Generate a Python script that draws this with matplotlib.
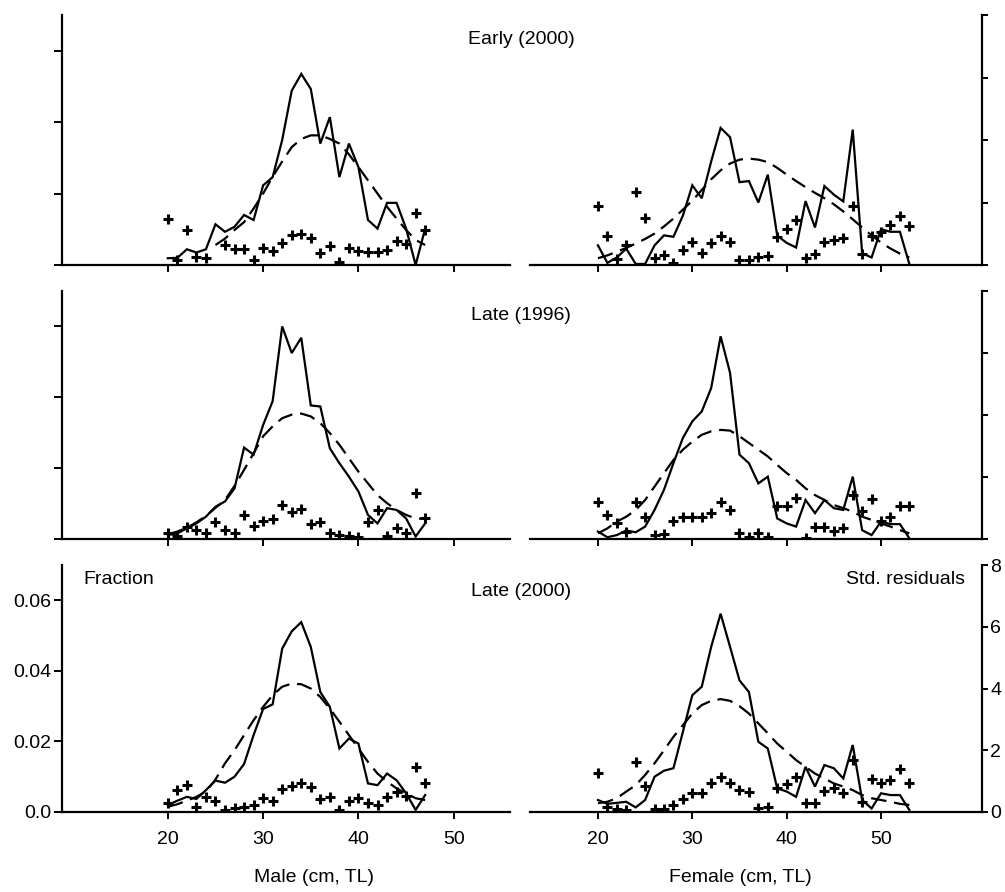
import numpy as np
import matplotlib
matplotlib.use("Agg")
import matplotlib.pyplot as plt

plt.rcParams['font.family'] = ['Liberation Sans', 'DejaVu Sans']
nan = np.nan

# ---------------- data ----------------
len_male = [20, 21, 22, 23, 24, 25, 26, 27, 28, 29, 30, 31, 32, 33, 34, 35, 36, 37, 38, 39,
            40, 41, 42, 43, 44, 45, 46, 47]
len_female = [20, 21, 22, 23, 24, 25, 26, 27, 28, 29, 30, 31, 32, 33, 34, 35, 36, 37, 38, 39,
              40, 41, 42, 43, 44, 45, 46, 47, 48, 49, 50, 51, 52, 53]
len_fit_m_early = [25, 26, 27, 28, 29, 30, 31, 32, 33, 34, 35, 36, 37, 38, 39, 40, 41, 42, 43,
                   44, 45, 46, 47]

# Early (2000) male
obs_m_early = [0.0019, 0.0020, 0.0044, 0.0035, 0.0044, 0.0114, 0.0093, 0.0107, 0.0140, 0.0126,
               0.0223, 0.0246, 0.0350, 0.0488, 0.0535, 0.0493, 0.0340, 0.0414, 0.0246, 0.0340,
               0.0274, 0.0126, 0.0102, 0.0174, 0.0174, 0.0102, 0.0000, 0.0102]
fit_m_early = [0.0056, 0.0074, 0.0098, 0.0120, 0.0158, 0.0200, 0.0247, 0.0290, 0.0330, 0.0353,
               0.0363, 0.0363, 0.0353, 0.0340, 0.0310, 0.0274, 0.0237, 0.0200, 0.0163, 0.0130,
               0.0098, 0.0070, 0.0056]
res_m_early = [1.48, 0.16, 1.13, 0.26, 0.21, nan, 0.63, 0.50, 0.50, 0.16, 0.53, 0.46, 0.69, 0.95,
               1.00, 0.85, 0.37, 0.60, 0.10, 0.53, 0.46, 0.42, 0.42, 0.48, 0.76, 0.67, 1.66, 1.13]

# Early (2000) female
obs_f_early = [0.0055, 0.0006, 0.0021, 0.0046, 0.0003, 0.0003, 0.0055, 0.0083, 0.0079, 0.0138,
               0.0223, 0.0187, 0.0290, 0.0384, 0.0358, 0.0232, 0.0235, 0.0175, 0.0253, 0.0082,
               0.0062, 0.0049, 0.0179, 0.0105, 0.0221, 0.0197, 0.0178, 0.0379, 0.0033, 0.0021,
               0.0100, 0.0093, 0.0093, 0.0003]
fit_f_early = [0.0019, 0.0027, 0.0037, 0.0048, 0.0060, 0.0073, 0.0088, 0.0108, 0.0130, 0.0155,
               0.0180, 0.0210, 0.0240, 0.0265, 0.0284, 0.0295, 0.0298, 0.0295, 0.0288, 0.0272,
               0.0253, 0.0235, 0.0218, 0.0202, 0.0187, 0.0170, 0.0150, 0.0128, 0.0105, 0.0083,
               0.0063, 0.0046, 0.0032, 0.0021]
res_f_early = [1.90, 0.92, 0.20, 0.63, 2.35, 1.51, 0.21, 0.32, 0.07, 0.48, 0.74, 0.37, 0.69, 0.92,
               0.74, 0.16, 0.16, 0.26, 0.30, 0.90, 1.16, 1.45, 0.21, 0.35, 0.74, 0.79, 0.85, 1.90,
               0.35, 0.92, 1.06, 1.27, 1.56, 1.24]

# Late (1996) male
obs_m_1996 = [0.0011, 0.0016, 0.0030, 0.0044, 0.0063, 0.0091, 0.0106, 0.0143, 0.0258, 0.0238,
              0.0322, 0.0389, 0.0600, 0.0525, 0.0568, 0.0377, 0.0374, 0.0256, 0.0214, 0.0176,
              0.0134, 0.0068, 0.0044, 0.0087, 0.0082, 0.0058, 0.0007, 0.0044]
fit_m_1996 = [0.0013, 0.0021, 0.0032, 0.0047, 0.0065, 0.0088, 0.0110, 0.0150, 0.0195, 0.0242,
              0.0290, 0.0318, 0.0341, 0.0351, 0.0354, 0.0346, 0.0327, 0.0299, 0.0266, 0.0228,
              0.0190, 0.0157, 0.0124, 0.0101, 0.0082, 0.0068, 0.0058, 0.0057]
res_m_1996 = [0.18, 0.10, 0.40, 0.29, 0.18, 0.54, 0.29, 0.18, 0.78, 0.43, 0.59, 0.65, 1.10, 0.86,
              0.97, 0.49, 0.56, 0.18, 0.13, 0.10, 0.08, 0.54, 0.94, 0.11, 0.35, 0.18, 1.50, 0.67]

# Late (1996) female
obs_f_1996 = [0.0021, 0.0005, 0.0011, 0.0024, 0.0019, 0.0035, 0.0082, 0.0139, 0.0214, 0.0285,
              0.0332, 0.0360, 0.0426, 0.0572, 0.0469, 0.0238, 0.0214, 0.0157, 0.0176, 0.0058,
              0.0044, 0.0035, 0.0110, 0.0073, 0.0110, 0.0087, 0.0082, 0.0176, 0.0025, 0.0011,
              0.0049, 0.0042, 0.0042, 0.0002]
fit_f_1996 = [0.0016, 0.0030, 0.0049, 0.0063, 0.0082, 0.0110, 0.0148, 0.0186, 0.0223, 0.0252,
              0.0275, 0.0294, 0.0304, 0.0308, 0.0306, 0.0290, 0.0271, 0.0252, 0.0233, 0.0209,
              0.0186, 0.0167, 0.0143, 0.0124, 0.0110, 0.0096, 0.0087, 0.0077, 0.0063, 0.0054,
              0.0044, 0.0035, 0.0025, 0.0016]
res_f_1996 = [1.18, 0.78, 0.53, 0.24, 1.18, 0.70, 0.13, 0.16, 0.59, 0.72, 0.72, 0.72, 0.85, 1.18,
              0.94, 0.18, 0.05, 0.20, 0.08, 1.05, 1.07, 1.32, 0.02, 0.38, 0.38, 0.27, 0.35, 1.43,
              0.90, 1.29, 0.58, 0.72, 1.05, 1.05]

# Late (2000) male
obs_m_2000 = [0.0020, 0.0032, 0.0043, 0.0037, 0.0062, 0.0089, 0.0083, 0.0100, 0.0136, 0.0218,
              0.0292, 0.0305, 0.0463, 0.0512, 0.0538, 0.0468, 0.0340, 0.0298, 0.0180, 0.0208,
              0.0194, 0.0081, 0.0076, 0.0109, 0.0090, 0.0053, 0.0006, 0.0048]
fit_m_2000 = [0.0015, 0.0022, 0.0032, 0.0043, 0.0058, 0.0092, 0.0138, 0.0175, 0.0218, 0.0260,
              0.0298, 0.0331, 0.0355, 0.0364, 0.0362, 0.0350, 0.0326, 0.0293, 0.0256, 0.0218,
              0.0180, 0.0142, 0.0109, 0.0086, 0.0067, 0.0053, 0.0039, 0.0034]
res_m_2000 = [0.28, 0.71, 0.87, 0.17, 0.50, 0.36, 0.06, 0.12, 0.15, 0.23, 0.44, 0.36, 0.75, 0.85,
              0.95, 0.80, 0.41, 0.48, 0.06, 0.36, 0.44, 0.28, 0.23, 0.48, 0.64, 0.52, 1.47, 0.93]

# Late (2000) female
obs_f_2000 = [0.0034, 0.0023, 0.0026, 0.0029, 0.0013, 0.0034, 0.0100, 0.0117, 0.0124, 0.0227,
              0.0331, 0.0355, 0.0468, 0.0562, 0.0468, 0.0373, 0.0340, 0.0199, 0.0180, 0.0067,
              0.0058, 0.0043, 0.0128, 0.0072, 0.0133, 0.0124, 0.0095, 0.0190, 0.0034, 0.0010,
              0.0053, 0.0048, 0.0048, 0.0006]
fit_f_2000 = [0.0025, 0.0029, 0.0039, 0.0058, 0.0076, 0.0105, 0.0138, 0.0175, 0.0213, 0.0246,
              0.0279, 0.0303, 0.0315, 0.0320, 0.0315, 0.0300, 0.0279, 0.0251, 0.0223, 0.0194,
              0.0171, 0.0147, 0.0128, 0.0109, 0.0095, 0.0081, 0.0072, 0.0062, 0.0048, 0.0039,
              0.0034, 0.0029, 0.0023, 0.0020]
res_f_2000 = [1.27, 0.17, 0.09, 0.06, 1.63, 0.84, 0.09, 0.09, 0.23, 0.41, 0.60, 0.63, 0.93, 1.12,
              0.95, 0.71, 0.66, 0.12, 0.17, 0.77, 0.91, 1.14, 0.30, 0.28, 0.69, 0.77, 0.63, 1.70,
              0.33, 1.06, 0.93, 1.04, 1.38, 0.95]

row_titles = ["Early (2000)", "Late (1996)", "Late (2000)"]
x_ticks = [20, 30, 40, 50]
frac_ticks = [0.0, 0.02, 0.04, 0.06]
frac_labels = ["0.0", "0.02", "0.04", "0.06"]
res_ticks = [0, 2, 4, 6, 8]

panels = [
    [(len_male, obs_m_early, len_fit_m_early, fit_m_early, len_male, res_m_early),
     (len_female, obs_f_early, len_female, fit_f_early, len_female, res_f_early)],
    [(len_male, obs_m_1996, len_male, fit_m_1996, len_male, res_m_1996),
     (len_female, obs_f_1996, len_female, fit_f_1996, len_female, res_f_1996)],
    [(len_male, obs_m_2000, len_male, fit_m_2000, len_male, res_m_2000),
     (len_female, obs_f_2000, len_female, fit_f_2000, len_female, res_f_2000)],
]

# ---------------- layout ----------------
W, H = 1005, 892
fig = plt.figure(figsize=(W / 100, H / 100), dpi=100)
fs = 14

rows_px = [(15, 265), (291, 539), (565, 812)]
cols_px = [(62, 510), (530, 982)]
xlims = [(8.9, 55.9), (12.8, 60.7)]
title_y = [40, 316, 591]

for r, (top, bot) in enumerate(rows_px):
    for c, (left, right) in enumerate(cols_px):
        ax = fig.add_axes([left / W, 1 - bot / H, (right - left) / W, (bot - top) / H])
        ax2 = ax.twinx()
        lx, obs, fx, fit, rx, res = panels[r][c]
        ax.plot(lx, obs, color='black', lw=1.6, solid_joinstyle='miter')
        ax.plot(fx, fit, color='black', lw=1.6, dashes=(7, 3.5))
        ax2.plot(rx, res, linestyle='none', marker='+', ms=7, mew=2.2, color='black')
        ax.set_xlim(*xlims[c])
        ax.set_ylim(0, 0.07)
        ax2.set_ylim(0, 8)
        for a in (ax, ax2):
            a.spines['top'].set_visible(False)
            a.patch.set_visible(False)
        ax.spines['right'].set_visible(False)
        ax2.spines['left'].set_visible(False)
        ax2.spines['bottom'].set_visible(False)
        ax.spines['bottom'].set_linewidth(1.6)
        ax.set_xticks(x_ticks)
        ax.tick_params(axis='x', direction='out', length=5, width=1.4, pad=9, labelsize=fs)
        if r < 2:
            ax.set_xticklabels([])
        if c == 0:
            ax.spines['left'].set_linewidth(1.6)
            ax.set_yticks(frac_ticks)
            ax.set_yticklabels(frac_labels if r == 2 else [])
            ax.tick_params(axis='y', direction='out', length=6, width=1.4, pad=2, labelsize=fs)
            ax2.spines['right'].set_visible(False)
            ax2.set_yticks([])
        else:
            ax.spines['left'].set_visible(False)
            ax.set_yticks([])
            ax2.spines['right'].set_linewidth(1.6)
            ax2.set_yticks(res_ticks)
            if r < 2:
                ax2.set_yticklabels([])
            ax2.tick_params(axis='y', direction='out', length=4, width=1.4, pad=2, labelsize=fs)

    fig.text(521 / W, 1 - title_y[r] / H, row_titles[r], ha='center', va='center', fontsize=fs)

fig.text(83 / W, 1 - 580 / H, "Fraction", ha='left', va='center', fontsize=fs)
fig.text(965 / W, 1 - 580 / H, "Std. residuals", ha='right', va='center', fontsize=fs)
fig.text(314 / W, 1 - 877 / H, "Male (cm, TL)", ha='center', va='center', fontsize=fs)
fig.text(740 / W, 1 - 877 / H, "Female (cm, TL)", ha='center', va='center', fontsize=fs)

fig.savefig("out.png", dpi=100)
